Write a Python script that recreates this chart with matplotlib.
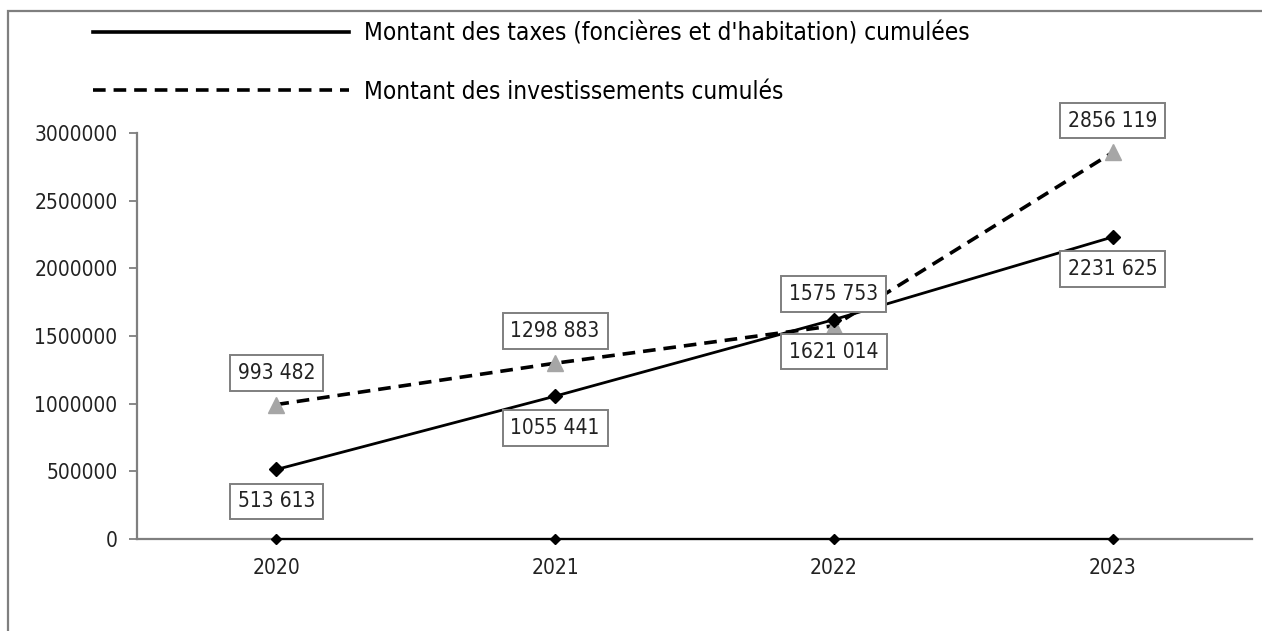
import matplotlib
matplotlib.use("Agg")
import matplotlib.pyplot as plt
from matplotlib import font_manager
from matplotlib.patches import Rectangle

# narrow font if there is one, like the original chart
names = {(f.name, str(f.stretch)) for f in font_manager.fontManager.ttflist}
if any(n == 'Liberation Sans Narrow' for n, s in names):
    plt.rcParams['font.family'] = ['Liberation Sans Narrow', 'DejaVu Sans']
elif any(n == 'DejaVu Sans' and 'condensed' in s for n, s in names):
    plt.rcParams['font.family'] = ['DejaVu Sans']
    plt.rcParams['font.stretch'] = 'condensed'
else:
    plt.rcParams['font.family'] = ['Liberation Sans', 'DejaVu Sans']

years = ['2020', '2021', '2022', '2023']
taxes = [513613, 1055441, 1621014, 2231625]
invest = [993482, 1298883, 1575753, 2856119]
zeros = [0, 0, 0, 0]
taxes_lbl = ['513 613', '1055 441', '1621 014', '2231 625']
invest_lbl = ['993 482', '1298 883', '1575 753', '2856 119']
yticks = [0, 500000, 1000000, 1500000, 2000000, 2500000, 3000000]

fig = plt.figure(figsize=(12.62, 6.31), dpi=100)
ax = fig.add_axes([137/1262, 1 - 539/631, (1252-137)/1262, (539-133)/631])

x = list(range(len(years)))
l1, = ax.plot(x, taxes, color='black', lw=2.0, marker='D', ms=7, mfc='black', mec='black', zorder=4)
l2, = ax.plot(x, invest, color='black', lw=2.6, dashes=(3.5, 2.2), marker='^', ms=11,
              mfc='#a6a6a6', mec='#a6a6a6', zorder=3)
ax.plot(x, zeros, color='black', lw=1.6, marker='D', ms=5, zorder=4, clip_on=False)

box = dict(boxstyle='square,pad=0.38', fc='white', ec='#7f7f7f', lw=1.4)
for xi, v, s in zip(x, taxes, taxes_lbl):
    ax.annotate(s, (xi, v), xytext=(0, -23), textcoords='offset points', ha='center', va='center',
                fontsize=15, color='#222222', bbox=box, zorder=6)
for xi, v, s in zip(x, invest, invest_lbl):
    ax.annotate(s, (xi, v), xytext=(0, 23), textcoords='offset points', ha='center', va='center',
                fontsize=15, color='#222222', bbox=box, zorder=6)

ax.set_xlim(-0.5, 3.5)
ax.set_ylim(0, 3000000)
ax.set_xticks(x)
ax.set_xticklabels(years)
ax.set_yticks(yticks)
ax.set_yticklabels([str(t) for t in yticks])
ax.tick_params(axis='x', length=0, pad=14, labelsize=15, labelcolor='#222222')
ax.tick_params(axis='y', length=6, width=1.3, color='#7f7f7f', pad=8, labelsize=15, labelcolor='#222222')
for s in ['top', 'right']:
    ax.spines[s].set_visible(False)
for s in ['left', 'bottom']:
    ax.spines[s].set_color('#7f7f7f')
    ax.spines[s].set_linewidth(1.6)

fig.legend([l1, l2], ['Montant des taxes (foncières et d\'habitation) cumulées',
                      'Montant des investissements cumulés'],
           loc='upper left', bbox_to_anchor=(93/1262, 1 - 22/631), frameon=False,
           handlelength=10.55, handletextpad=0.62, labelspacing=1.38, borderpad=0,
           borderaxespad=0, prop={'size': 17.5})
leg = fig.legends[0]
for h in leg.legend_handles:
    h.set_marker('None')
    h.set_linewidth(2.6)

fig.patches.append(Rectangle((8/1262, -0.2), 1.2, 1.2 - 11/631, transform=fig.transFigure,
                             fill=False, ec='#7f7f7f', lw=1.6, zorder=0))

fig.savefig('out.png', dpi=100)
